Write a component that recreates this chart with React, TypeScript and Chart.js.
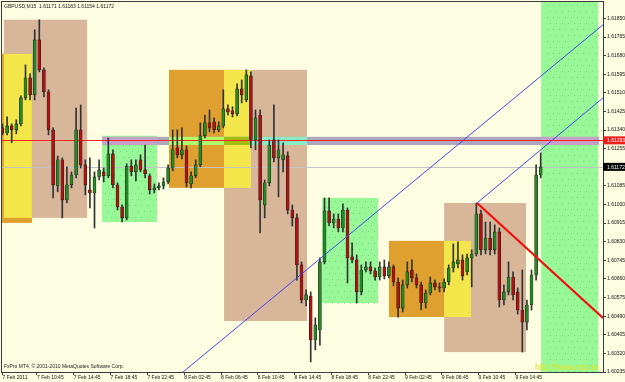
import React, { useEffect, useRef } from 'react';
import { Chart, registerables } from 'chart.js';

Chart.register(...registerables);

// ---- chart text ----
const TITLE_TEXT = 'GBPUSD,M15  1.61171 1.61183 1.61154 1.61172';
const COPYRIGHT_TEXT = 'FxPro MT4, \u00A9 2001-2010 MetaQuotes Software Corp.';
const WATERMARK_TEXT = 'http://www.vip.ae';

// ---- time axis (hours since 7 Feb 2011 00:00) ----
const X_MIN = 6.946;
const X_MAX = 72.27;
const X_TICK_HOURS = [7, 10.75, 14.75, 18.75, 22.75, 26.75, 30.75, 34.75, 38.75, 42.75, 46.75, 50.75, 54.75, 58.75, 62.75];
const X_TICK_LABELS = ['7 Feb 2011', '7 Feb 10:45', '7 Feb 14:45', '7 Feb 18:45', '7 Feb 22:45', '8 Feb 02:45', '8 Feb 06:45', '8 Feb 10:45', '8 Feb 14:45', '8 Feb 18:45', '8 Feb 22:45', '9 Feb 02:45', '9 Feb 06:45', '9 Feb 10:45', '9 Feb 14:45'];

// ---- price axis ----
const Y_MIN = 1.60235;
const Y_MAX = 1.61925;
const Y_TICKS = [1.60235, 1.6032, 1.60405, 1.6049, 1.60575, 1.6066, 1.60745, 1.6083, 1.60915, 1.61, 1.61085, 1.6117, 1.61255, 1.6134, 1.61425, 1.6151, 1.61595, 1.6168, 1.61765, 1.6185];

// ---- candles (one every half hour from 7 Feb 07:00) ----
const BAR_START_HOUR = 7.0;
const BAR_STEP_HOURS = 0.5;
const OPEN = [
  1.61350, 1.61327, 1.61359, 1.61341, 1.61368, 1.61487, 1.61579, 1.61501, 1.61752, 1.61615,
  1.61515, 1.61341, 1.61085, 1.61204, 1.61021, 1.61090, 1.61135, 1.61341, 1.61181, 1.61067,
  1.61053, 1.61126, 1.61149, 1.61131, 1.61231, 1.61090, 1.60989, 1.60939, 1.61176, 1.61149,
  1.61204, 1.61158, 1.61131, 1.61067, 1.61076, 1.61085, 1.61103, 1.61167, 1.61259, 1.61227,
  1.61250, 1.61094, 1.61131, 1.61181, 1.61314, 1.61373, 1.61378, 1.61341, 1.61359, 1.61437,
  1.61428, 1.61414, 1.61528, 1.61478, 1.61588, 1.61295, 1.61409, 1.60998, 1.61099, 1.61295,
  1.61213, 1.61204, 1.61222, 1.60975, 1.60939, 1.60724, 1.60564, 1.60582, 1.60381, 1.60427,
  1.60738, 1.60971, 1.60916, 1.60934, 1.60893, 1.60975, 1.60761, 1.60747, 1.60601, 1.60701,
  1.60715, 1.60697, 1.60669, 1.60715, 1.60674, 1.60715, 1.60646, 1.60527, 1.60633, 1.60701,
  1.60665, 1.60633, 1.60550, 1.60596, 1.60642, 1.60623, 1.60619, 1.60646, 1.60710, 1.60729,
  1.60747, 1.60692, 1.60756, 1.60774, 1.60957, 1.60793, 1.60847, 1.60793, 1.60875, 1.60564,
  1.60601, 1.60669, 1.60601, 1.60518, 1.60463, 1.60541, 1.60678, 1.61135,
];
const HIGH = [
  1.61368, 1.61400, 1.61368, 1.61387, 1.61496, 1.61638, 1.61597, 1.61798, 1.61844, 1.61624,
  1.61524, 1.61350, 1.61222, 1.61213, 1.61172, 1.61149, 1.61441, 1.61455, 1.61204, 1.61213,
  1.61149, 1.61204, 1.61167, 1.61304, 1.61250, 1.61099, 1.60998, 1.61186, 1.61204, 1.61204,
  1.61227, 1.61272, 1.61140, 1.61094, 1.61099, 1.61122, 1.61181, 1.61341, 1.61341, 1.61350,
  1.61268, 1.61149, 1.61204, 1.61373, 1.61409, 1.61432, 1.61396, 1.61378, 1.61524, 1.61455,
  1.61446, 1.61551, 1.61569, 1.61615, 1.61606, 1.61432, 1.61432, 1.61112, 1.61295, 1.61455,
  1.61295, 1.61282, 1.61240, 1.60998, 1.60957, 1.60738, 1.60610, 1.60601, 1.60482, 1.60756,
  1.61030, 1.61030, 1.60957, 1.60957, 1.61003, 1.60984, 1.60825, 1.60770, 1.60724, 1.60738,
  1.60738, 1.60710, 1.60738, 1.60747, 1.60738, 1.60724, 1.60665, 1.60655, 1.60738, 1.60747,
  1.60683, 1.60646, 1.60610, 1.60669, 1.60655, 1.60642, 1.60660, 1.60724, 1.60820, 1.60829,
  1.60770, 1.60774, 1.60793, 1.61007, 1.60975, 1.60920, 1.60920, 1.60907, 1.60893, 1.60633,
  1.60738, 1.60692, 1.60619, 1.60701, 1.60564, 1.60701, 1.61181, 1.61236,
];
const LOW = [
  1.61318, 1.61318, 1.61282, 1.61323, 1.61359, 1.61478, 1.61478, 1.61478, 1.61606, 1.61492,
  1.61318, 1.61030, 1.61058, 1.60939, 1.61007, 1.61076, 1.61122, 1.61167, 1.61044, 1.60984,
  1.60893, 1.61112, 1.61103, 1.61122, 1.61076, 1.60975, 1.60920, 1.60930, 1.61131, 1.61108,
  1.61149, 1.61122, 1.61048, 1.61053, 1.61067, 1.61071, 1.61094, 1.61154, 1.61213, 1.61208,
  1.61080, 1.61076, 1.61122, 1.61172, 1.61304, 1.61332, 1.61327, 1.61332, 1.61350, 1.61409,
  1.61400, 1.61405, 1.61464, 1.61469, 1.61259, 1.61250, 1.60870, 1.60939, 1.61085, 1.61195,
  1.61035, 1.61149, 1.60957, 1.60902, 1.60655, 1.60550, 1.60537, 1.60281, 1.60336, 1.60358,
  1.60729, 1.60902, 1.60893, 1.60875, 1.60875, 1.60642, 1.60733, 1.60550, 1.60587, 1.60692,
  1.60683, 1.60655, 1.60655, 1.60660, 1.60665, 1.60628, 1.60486, 1.60509, 1.60619, 1.60646,
  1.60619, 1.60518, 1.60527, 1.60587, 1.60610, 1.60601, 1.60601, 1.60633, 1.60692, 1.60710,
  1.60655, 1.60678, 1.60623, 1.60765, 1.60770, 1.60774, 1.60770, 1.60774, 1.60532, 1.60541,
  1.60587, 1.60564, 1.60500, 1.60326, 1.60427, 1.60518, 1.60655, 1.61122,
];
const CLOSE = [
  1.61327, 1.61359, 1.61341, 1.61368, 1.61487, 1.61579, 1.61501, 1.61752, 1.61615, 1.61515,
  1.61341, 1.61090, 1.61204, 1.61021, 1.61090, 1.61135, 1.61341, 1.61181, 1.61090, 1.61053,
  1.61126, 1.61158, 1.61131, 1.61231, 1.61090, 1.60989, 1.60939, 1.61176, 1.61149, 1.61181,
  1.61158, 1.61140, 1.61067, 1.61076, 1.61085, 1.61103, 1.61167, 1.61250, 1.61227, 1.61250,
  1.61099, 1.61131, 1.61181, 1.61314, 1.61373, 1.61350, 1.61341, 1.61359, 1.61437, 1.61423,
  1.61414, 1.61528, 1.61501, 1.61592, 1.61295, 1.61396, 1.61021, 1.61099, 1.61272, 1.61213,
  1.61250, 1.61227, 1.60975, 1.60939, 1.60724, 1.60564, 1.60587, 1.60381, 1.60450, 1.60738,
  1.60971, 1.60916, 1.60934, 1.60893, 1.60975, 1.60756, 1.60747, 1.60601, 1.60701, 1.60715,
  1.60697, 1.60669, 1.60715, 1.60674, 1.60715, 1.60646, 1.60527, 1.60633, 1.60692, 1.60665,
  1.60633, 1.60550, 1.60596, 1.60642, 1.60623, 1.60619, 1.60646, 1.60710, 1.60738, 1.60747,
  1.60674, 1.60756, 1.60774, 1.60957, 1.60793, 1.60847, 1.60793, 1.60875, 1.60564, 1.60601,
  1.60669, 1.60587, 1.60518, 1.60463, 1.60541, 1.60678, 1.61135, 1.61172,
];

// ---- session rectangles (time in hours, prices), in drawing order ----
const BOX_START = [7.15, 6.9, 7.15, 17.82, 25.1, 31.08, 31.08, 41.73, 49.0, 55.0, 55.0, 65.55];
const BOX_END = [16.2, 10.2, 10.2, 23.8, 31.08, 40.1, 34.0, 47.82, 55.0, 63.9, 57.92, 71.75];
const BOX_TOP = [1.61844, 1.61688, 1.61688, 1.61314, 1.61615, 1.61615, 1.61615, 1.6103, 1.60834, 1.61007, 1.60834, 1.7];
const BOX_BOTTOM = [1.60939, 1.60916, 1.60939, 1.6092, 1.61076, 1.60468, 1.61076, 1.6055, 1.60486, 1.60326, 1.60486, 1.5];
const BOX_KIND = ['tan', 'orange', 'yellow', 'green', 'orange', 'tan', 'yellow', 'green', 'orange', 'tan', 'yellow', 'green'];

// ---- horizontal levels ----
const RED_LEVEL = 1.61293;
const BID_LEVEL = 1.61172;
const BAND_START = 17.82;
const BAND_END = 71.85;
const BAND_TOP = 1.61309;
const BAND_BOTTOM = 1.61272;

// ---- trend lines ----
const BLUE1_T = [26.62, 72.27];
const BLUE1_P = [1.60235, 1.61821];
const BLUE2_T = [58.58, 72.27];
const BLUE2_P = [1.61007, 1.61487];
const RED_T = [58.58, 72.27];
const RED_P = [1.61007, 1.60482];

// ---- colours ----
const BG = [253, 253, 226];
const BAND_MASK = [80, 90, 94];
const KIND_RGB: Record<string, number[]> = {
  tan: [216, 182, 154],
  orange: [224, 160, 48],
  yellow: [243, 230, 74],
  green: [152, 248, 152],
};
const BULL = '#248a24';
const BEAR = '#b01212';
const WICK = '#333333';
const AXIS = '#3c3c3c';
const FONT = '"Liberation Sans", Arial, sans-serif';

const rgb = (c: number[]) => `rgb(${c[0]},${c[1]},${c[2]})`;
const xor = (c: number[]) => [c[0] ^ BAND_MASK[0], c[1] ^ BAND_MASK[1], c[2] ^ BAND_MASK[2]];

const mt4Plugin = {
  id: 'mt4',
  beforeDraw(chart: any) {
    const { ctx, width, height } = chart;
    ctx.save();
    ctx.fillStyle = rgb(BG);
    ctx.fillRect(0, 0, width, height);
    ctx.restore();
  },
  beforeDatasetsDraw(chart: any) {
    const { ctx, chartArea: a, scales } = chart;
    const x = scales.x;
    const y = scales.y;
    ctx.save();
    ctx.beginPath();
    ctx.rect(a.left, a.top, a.right - a.left, a.bottom - a.top);
    ctx.clip();
    // rectangles
    BOX_START.forEach((s, i) => {
      const x1 = x.getPixelForValue(s);
      const x2 = x.getPixelForValue(BOX_END[i]);
      const y1 = y.getPixelForValue(BOX_TOP[i]);
      const y2 = y.getPixelForValue(BOX_BOTTOM[i]);
      ctx.fillStyle = rgb(KIND_RGB[BOX_KIND[i]]);
      ctx.fillRect(x1, y1, x2 - x1, y2 - y1);
    });
    // small dots on the green rectangles
    ctx.fillStyle = 'rgba(90,200,90,0.55)';
    BOX_START.forEach((s, i) => {
      if (BOX_KIND[i] !== 'green') return;
      const x1 = x.getPixelForValue(s);
      const x2 = x.getPixelForValue(BOX_END[i]);
      const y1 = Math.max(a.top, y.getPixelForValue(BOX_TOP[i]));
      const y2 = Math.min(a.bottom, y.getPixelForValue(BOX_BOTTOM[i]));
      for (let py = y1 + 3; py < y2; py += 6) {
        for (let px = x1 + 3 + ((py / 6) % 2) * 3; px < x2; px += 6) ctx.fillRect(Math.round(px), Math.round(py), 1, 1);
      }
    });
    // XOR band around the level
    const bx1 = x.getPixelForValue(BAND_START);
    const bx2 = x.getPixelForValue(BAND_END);
    const by1 = y.getPixelForValue(BAND_TOP);
    const by2 = y.getPixelForValue(BAND_BOTTOM);
    ctx.fillStyle = rgb(xor(BG));
    ctx.fillRect(bx1, by1, bx2 - bx1, by2 - by1);
    BOX_START.forEach((s, i) => {
      const ox1 = Math.max(bx1, x.getPixelForValue(s));
      const ox2 = Math.min(bx2, x.getPixelForValue(BOX_END[i]));
      const oy1 = Math.max(by1, y.getPixelForValue(BOX_TOP[i]));
      const oy2 = Math.min(by2, y.getPixelForValue(BOX_BOTTOM[i]));
      if (ox2 > ox1 && oy2 > oy1) {
        ctx.fillStyle = rgb(xor(KIND_RGB[BOX_KIND[i]]));
        ctx.fillRect(ox1, oy1, ox2 - ox1, oy2 - oy1);
      }
    });
    // bid line
    const bidY = Math.round(y.getPixelForValue(BID_LEVEL)) + 0.5;
    ctx.strokeStyle = '#c4c4c4';
    ctx.lineWidth = 1;
    ctx.beginPath();
    ctx.moveTo(a.left, bidY);
    ctx.lineTo(a.right, bidY);
    ctx.stroke();
    // red horizontal level
    const redY = Math.round(y.getPixelForValue(RED_LEVEL)) + 0.5;
    ctx.strokeStyle = '#ff2020';
    ctx.beginPath();
    ctx.moveTo(a.left, redY);
    ctx.lineTo(a.right, redY);
    ctx.stroke();
    ctx.restore();
  },
  afterDraw(chart: any) {
    const { ctx, chartArea: a, scales, width } = chart;
    const y = scales.y;
    ctx.save();
    // frame
    ctx.strokeStyle = AXIS;
    ctx.lineWidth = 1;
    ctx.strokeRect(a.left - 0.5, a.top - 0.5, a.right - a.left + 1, a.bottom - a.top + 1);
    // texts
    ctx.textAlign = 'left';
    ctx.textBaseline = 'middle';
    ctx.font = `5px ${FONT}`;
    ctx.fillStyle = '#222222';
    ctx.fillText(TITLE_TEXT, a.left + 2, a.top + 4.5);
    ctx.fillText(COPYRIGHT_TEXT, a.left + 2, a.bottom - 5);
    ctx.font = `8.5px ${FONT}`;
    ctx.fillStyle = '#e4e428';
    ctx.fillText(WATERMARK_TEXT, a.right - 68, a.bottom - 4);
    // price labels on the axis
    const drawLabel = (value: number, fill: string) => {
      const py = y.getPixelForValue(value);
      ctx.fillStyle = fill;
      ctx.fillRect(a.right, py - 4, width - a.right, 8);
      ctx.fillStyle = '#ffffff';
      ctx.font = `5px ${FONT}`;
      ctx.fillText(value.toFixed(5), a.right + 4, py + 0.5);
    };
    drawLabel(RED_LEVEL, '#ee1c1c');
    drawLabel(BID_LEVEL, '#000000');
    ctx.restore();
  },
};

export default function App() {
  const ref = useRef<HTMLCanvasElement>(null);
  useEffect(() => {
    const canvas = ref.current;
    if (!canvas) return;
    const times = OPEN.map((_, i) => BAR_START_HOUR + i * BAR_STEP_HOURS);
    const bodyColors = OPEN.map((o, i) => (CLOSE[i] >= o ? BULL : BEAR));
    const chart = new Chart(canvas, {
      type: 'bar',
      data: {
        datasets: [
          {
            type: 'line',
            data: BLUE1_T.map((t, i) => ({ x: t, y: BLUE1_P[i] })),
            borderColor: '#4646ee',
            borderWidth: 1,
            pointRadius: 0,
            tension: 0,
            order: 0,
          } as any,
          {
            type: 'line',
            data: BLUE2_T.map((t, i) => ({ x: t, y: BLUE2_P[i] })),
            borderColor: '#4646ee',
            borderWidth: 1,
            pointRadius: 0,
            tension: 0,
            order: 0,
          } as any,
          {
            type: 'line',
            data: RED_T.map((t, i) => ({ x: t, y: RED_P[i] })),
            borderColor: '#f01010',
            borderWidth: 2.2,
            pointRadius: 0,
            tension: 0,
            order: 0,
          } as any,
          {
            type: 'bar',
            data: times.map((t, i) => ({ x: t, y: [LOW[i], HIGH[i]] })),
            backgroundColor: WICK,
            barThickness: 1,
            grouped: false,
            order: 3,
          } as any,
          {
            type: 'bar',
            data: times.map((t, i) => ({ x: t, y: [OPEN[i], CLOSE[i]] })),
            backgroundColor: bodyColors,
            borderColor: '#1e1e1e',
            borderWidth: 0.6,
            borderSkipped: false,
            barThickness: 3,
            minBarLength: 1,
            grouped: false,
            order: 2,
          } as any,
        ],
      },
      options: {
        animation: false,
        responsive: false,
        devicePixelRatio: 1,
        events: [],
        layout: { padding: { left: 2, top: 2, right: 0, bottom: 0 }, autoPadding: false } as any,
        plugins: { legend: { display: false }, tooltip: { enabled: false }, title: { display: false } },
        scales: {
          x: {
            type: 'linear',
            min: X_MIN,
            max: X_MAX,
            offset: false,
            grid: { display: true, drawOnChartArea: false, drawTicks: true, tickLength: 3, tickColor: AXIS, color: AXIS, offset: false },
            border: { display: true, color: AXIS, width: 1 },
            ticks: {
              autoSkip: false,
              maxRotation: 0,
              minRotation: 0,
              align: 'start',
              padding: 0,
              color: '#111111',
              font: { family: FONT, size: 5 },
              callback: (_v: any, i: number) => X_TICK_LABELS[i] ?? '',
            },
            afterBuildTicks: (s: any) => {
              s.ticks = X_TICK_HOURS.map((v) => ({ value: v }));
            },
            afterFit: (s: any) => {
              s.height = 10;
              s.paddingLeft = 0;
              s.paddingRight = 0;
            },
          } as any,
          y: {
            type: 'linear',
            position: 'right',
            min: Y_MIN,
            max: Y_MAX,
            grid: { display: true, drawOnChartArea: false, drawTicks: true, tickLength: 3, tickColor: AXIS, color: AXIS },
            border: { display: true, color: AXIS, width: 1 },
            ticks: {
              autoSkip: false,
              padding: 1,
              color: '#111111',
              font: { family: FONT, size: 5 },
              callback: (v: any) => Number(v).toFixed(5),
            },
            afterBuildTicks: (s: any) => {
              s.ticks = Y_TICKS.map((v) => ({ value: v }));
            },
            afterFit: (s: any) => {
              s.width = 22;
              s.paddingTop = 0;
              s.paddingBottom = 0;
            },
          } as any,
        },
      },
      plugins: [mt4Plugin],
    });
    return () => chart.destroy();
  }, []);
  return (
    <div style={{ position: 'fixed', left: 0, top: 0, width: 625, height: 382, background: rgb(BG) }}>
      <canvas ref={ref} width={625} height={382} style={{ display: 'block', width: 625, height: 382 }} />
    </div>
  );
}
